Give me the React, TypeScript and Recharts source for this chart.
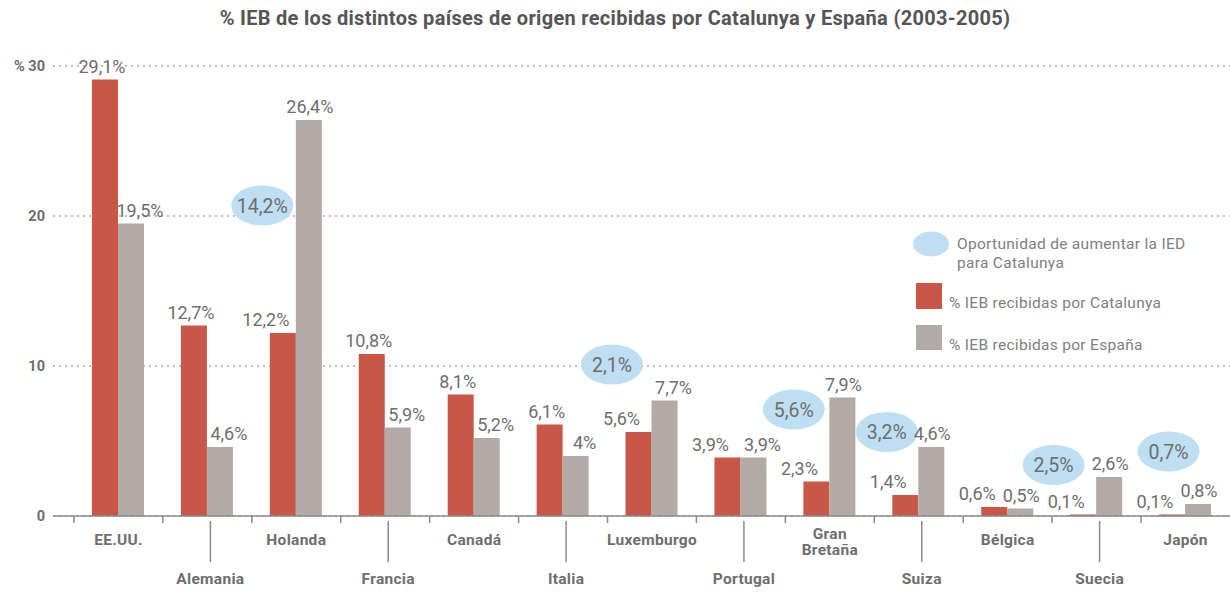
import React from 'react';
import { ComposedChart, Bar, XAxis, YAxis, CartesianGrid, ReferenceDot, LabelList } from 'recharts';

const countries = [
  'EE.UU.', 'Alemania', 'Holanda', 'Francia', 'Canadá', 'Italia', 'Luxemburgo',
  'Portugal', 'Gran Bretaña', 'Suiza', 'Bélgica', 'Suecia', 'Japón',
];
const catalunya = [29.1, 12.7, 12.2, 10.8, 8.1, 6.1, 5.6, 3.9, 2.3, 1.4, 0.6, 0.1, 0.1];
const espana = [19.5, 4.6, 26.4, 5.9, 5.2, 4, 7.7, 3.9, 7.9, 4.6, 0.5, 2.6, 0.8];
const opportunityCountries = ['Holanda', 'Luxemburgo', 'Gran Bretaña', 'Suiza', 'Suecia', 'Japón'];
const opportunityValues = [14.2, 2.1, 5.6, 3.2, 2.5, 0.7];
const yTicks = [0, 10, 20, 30];

const RED = '#c85748';
const GREY = '#b3a9a5';
const BLUE = '#bedef2';
const TEXT = '#6e6e6e';
const FONT = 'Roboto, "DejaVu Sans", sans-serif';

const W = 1230;
const H = 601;
const AXIS_Y = 516;
const BAND = 89;

// where each bubble sits (y in axis units, x shift from band centre)
const bubbleLevel = [20.7, 10.1, 7.1, 5.6, 3.4, 4.3];
const bubbleShift = [-34, -40, -36, -32, -43, -17];

const fmt = (v: number) => String(v).replace('.', ',') + '%';

const data = countries.map((c, i) => ({ country: c, catalunya: catalunya[i], espana: espana[i] }));

const XTick = (props: any) => {
  const { x, payload } = props;
  const i = countries.indexOf(payload.value);
  const lower = i % 2 === 1;
  const lines = String(payload.value).split(' ');
  const left = x - BAND / 2;
  return (
    <g>
      <line x1={left} x2={left} y1={AXIS_Y} y2={AXIS_Y + 7} stroke="#8a8a8a" strokeWidth={1.5} />
      {lower ? (
        <>
          <line x1={x + 3} x2={x + 3} y1={AXIS_Y + 5} y2={AXIS_Y + 46} stroke="#8a8a8a" strokeWidth={1.5} />
          <text x={x + 3} y={AXIS_Y + 68} textAnchor="middle" fontFamily={FONT} fontWeight={700} fontSize={15.5} letterSpacing={0.3} fill={TEXT}>
            {payload.value}
          </text>
        </>
      ) : (
        <text x={x} y={lines.length > 1 ? AXIS_Y + 23 : AXIS_Y + 29} textAnchor="middle" fontFamily={FONT} fontWeight={700} fontSize={15.5} letterSpacing={0.3} fill={TEXT}>
          {lines.map((l, k) => (
            <tspan key={k} x={x} dy={k === 0 ? 0 : 16}>{l}</tspan>
          ))}
        </text>
      )}
    </g>
  );
};

const YTick = (props: any) => {
  const { y, payload } = props;
  return (
    <text x={45} y={y} dy={5} textAnchor="end" fontFamily={FONT} fontWeight={700} fontSize={14.5} fill={TEXT}>
      {payload.value === 30 ? '% 30' : payload.value}
    </text>
  );
};

const catLabel = (props: any) => {
  const { x, y, width, value, index } = props;
  const dx = espana[index] >= catalunya[index] * 0.8 ? -17 : -3;
  return (
    <text x={x + width / 2 + dx} y={y - 7} textAnchor="middle" fontFamily={FONT} fontSize={18} fill={TEXT}>
      {fmt(value)}
    </text>
  );
};

const espLabel = (props: any) => {
  const { x, y, width, value, index } = props;
  const dx = espana[index] >= 2 && catalunya[index] >= espana[index] * 0.6 ? 9 : 1;
  return (
    <text x={x + width / 2 + dx} y={y - 7} textAnchor="middle" fontFamily={FONT} fontSize={18} fill={TEXT}>
      {fmt(value)}
    </text>
  );
};

const bubble = (k: number) => (props: any) => {
  const cx = props.cx + bubbleShift[k];
  const cy = props.cy;
  return (
    <g>
      <ellipse cx={cx} cy={cy} rx={31} ry={20} fill={BLUE} />
      <text x={cx} y={cy + 7} textAnchor="middle" fontFamily={FONT} fontSize={19.5} fill={TEXT}>
        {fmt(opportunityValues[k])}
      </text>
    </g>
  );
};

export default function App() {
  return (
    <div style={{ position: 'absolute', left: 0, top: 0, width: W, height: H, background: '#fff' }}>
      <div
        style={{
          position: 'absolute', left: 0, top: 6, width: W, textAlign: 'center',
          fontFamily: FONT, fontWeight: 700, fontSize: 20, letterSpacing: 0.3, color: '#555', lineHeight: '24px',
        }}
      >
        % IEB de los distintos países de origen recibidas por Catalunya y España (2003-2005)
      </div>
      <ComposedChart width={W} height={H} data={data} margin={{ top: 66, right: 0, bottom: 0, left: 0 }} barGap={0}>
        <CartesianGrid vertical={false} stroke="#c9bdb9" strokeWidth={2} strokeDasharray="2 4" />
        <XAxis
          dataKey="country"
          interval={0}
          height={85}
          padding={{ left: 21, right: 0 }}
          tickLine={false}
          axisLine={{ stroke: '#8a8a8a', strokeWidth: 1.5 }}
          tick={XTick}
        />
        <YAxis width={53} domain={[0, 30]} ticks={yTicks} axisLine={false} tickLine={false} tick={YTick} />
        <Bar dataKey="catalunya" fill={RED} barSize={26} isAnimationActive={false}>
          <LabelList dataKey="catalunya" content={catLabel} />
        </Bar>
        <Bar dataKey="espana" fill={GREY} barSize={26} isAnimationActive={false}>
          <LabelList dataKey="espana" content={espLabel} />
        </Bar>
        {opportunityCountries.map((c, k) => (
          <ReferenceDot key={c} x={c} y={bubbleLevel[k]} r={20} shape={bubble(k)} ifOverflow="visible" />
        ))}
      </ComposedChart>
      <svg width={W} height={H} style={{ position: 'absolute', left: 0, top: 0, pointerEvents: 'none' }}>
        <ellipse cx={931} cy={244} rx={18} ry={12.5} fill={BLUE} />
        <text x={957} y={249} fontFamily={FONT} fontSize={15.5} letterSpacing={0.3} fill="#808080">Oportunidad de aumentar la IED</text>
        <text x={957} y={268} fontFamily={FONT} fontSize={15.5} letterSpacing={0.3} fill="#808080">para Catalunya</text>
        <rect x={916} y={283} width={26} height={26} fill={RED} />
        <text x={949} y={308} fontFamily={FONT} fontSize={15.5} letterSpacing={0.3} fill="#808080">% IEB recibidas por Catalunya</text>
        <rect x={916} y={325} width={26} height={25} fill={GREY} />
        <text x={949} y={350} fontFamily={FONT} fontSize={15.5} letterSpacing={0.3} fill="#808080">% IEB recibidas por España</text>
      </svg>
    </div>
  );
}
